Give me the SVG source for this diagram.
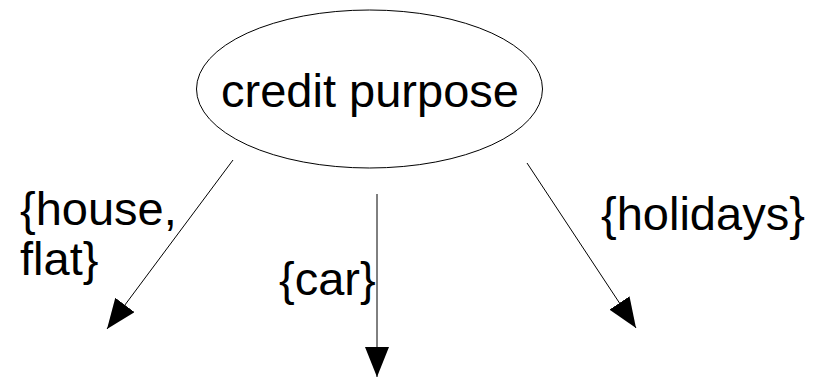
<svg xmlns="http://www.w3.org/2000/svg" width="822" height="378" viewBox="0 0 822 378">
  <style>
    .node-shape { fill: #ffffff; stroke: #000000; stroke-width: 1; }
    .label { font-family: "Liberation Sans", Arial, sans-serif; font-size: 47px; fill: #000000; }
    .edge { stroke: #000000; stroke-width: 1; fill: none; marker-end: url(#arrow); }
  </style>
  <defs>
    <marker id="arrow" markerUnits="userSpaceOnUse" markerWidth="30" markerHeight="24" viewBox="0 0 30 24" refX="30" refY="12" orient="auto">
      <path d="M0,0 L30,12 L0,24 z" fill="#000000"/>
    </marker>
  </defs>
  <rect width="822" height="378" fill="#ffffff"/>

  <!-- root attribute node -->
  <g id="credit-purpose">
    <ellipse class="node-shape" cx="369.5" cy="89" rx="173" ry="79"/>
    <text class="label" x="370" y="107" text-anchor="middle">credit purpose</text>
  </g>

  <!-- branches -->
  <g id="connectors">
    <line class="edge" x1="233" y1="160" x2="107" y2="329"/>
    <line class="edge" x1="377" y1="194" x2="377" y2="377"/>
    <line class="edge" x1="527" y1="163" x2="636" y2="328"/>
  </g>

  <!-- branch labels -->
  <g id="label-house-flat">
    <text class="label" x="20" y="225">{house,</text>
    <text class="label" x="20" y="275">flat}</text>
  </g>
  <g id="label-car">
    <text class="label" x="279" y="295">{car}</text>
  </g>
  <g id="label-holidays">
    <text class="label" x="601" y="230">{holidays}</text>
  </g>
</svg>
